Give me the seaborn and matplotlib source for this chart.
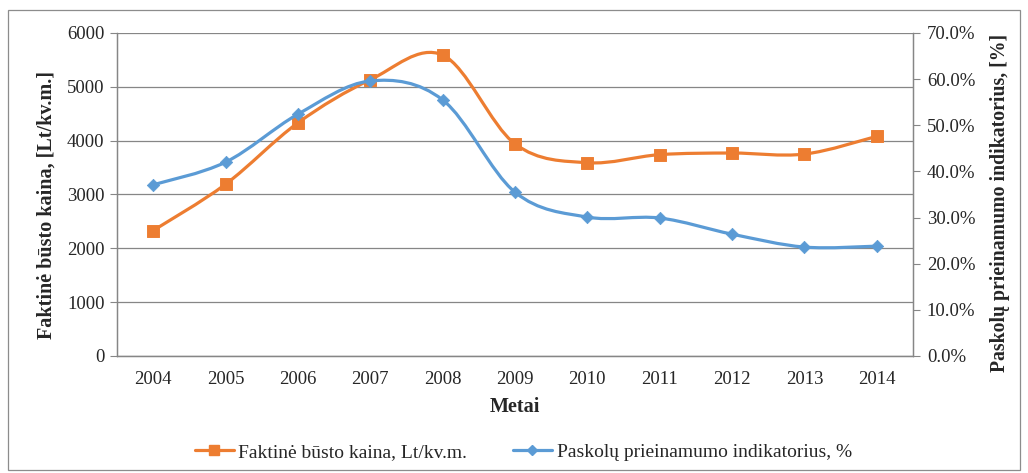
import matplotlib
matplotlib.use("Agg")
import matplotlib.pyplot as plt
import matplotlib.patches as mpatches
from matplotlib.lines import Line2D
from matplotlib.path import Path
from matplotlib.ticker import FuncFormatter, MultipleLocator
import numpy as np
import pandas as pd
import seaborn as sns

years = ["2004", "2005", "2006", "2007", "2008", "2009", "2010", "2011", "2012", "2013", "2014"]
price = [2330, 3190, 4330, 5130, 5590, 3940, 3590, 3740, 3770, 3750, 4080]
loan_pct = [37.1, 42.0, 52.4, 59.6, 55.5, 35.5, 30.1, 29.9, 26.4, 23.6, 23.8]

price_label = "Faktinė būsto kaina, Lt/kv.m."
loan_label = "Paskolų prieinamumo indikatorius, %"

ORANGE = "#ED7D31"
BLUE = "#5B9BD5"
GRID = "#868686"


def smooth_path(xs, ys):
    # excel-like smoothed line: cubic bezier with catmull-rom control points
    pts = np.column_stack([xs, ys]).astype(float)
    verts = [pts[0]]
    codes = [Path.MOVETO]
    n = len(pts)
    for i in range(n - 1):
        p0 = pts[i - 1] if i > 0 else pts[i]
        p1 = pts[i]
        p2 = pts[i + 1]
        p3 = pts[i + 2] if i + 2 < n else pts[i + 1]
        c1 = p1 + (p2 - p0) / 6.0
        c2 = p2 - (p3 - p1) / 6.0
        verts += [c1, c2, p2]
        codes += [Path.CURVE4] * 3
    return Path(verts, codes)


def main(output="out.png"):
    sns.set_style("white")
    plt.rcParams["font.family"] = ["Liberation Serif", "DejaVu Serif"]

    df = pd.DataFrame({"x": np.arange(len(years)), "price": price, "loan": loan_pct})

    fig = plt.figure(figsize=(10.28, 4.73), dpi=100)
    ax = fig.add_axes([0.1138, 0.2474, 0.7743, 0.6829])
    ax2 = ax.twinx()

    # outer chart border
    fig.add_artist(mpatches.Rectangle((8 / 1028, 3 / 473), 1012 / 1028, 460 / 473,
                                      transform=fig.transFigure, fill=False,
                                      edgecolor="#8c8c8c", linewidth=0.9))

    ax.add_patch(mpatches.PathPatch(smooth_path(df.x, df.price), fill=False,
                                    edgecolor=ORANGE, linewidth=2.3, zorder=3))
    sns.scatterplot(data=df, x="x", y="price", ax=ax, marker="s", s=70,
                    color=ORANGE, edgecolor=ORANGE, zorder=4, legend=False)

    ax2.add_patch(mpatches.PathPatch(smooth_path(df.x, df.loan), fill=False,
                                     edgecolor=BLUE, linewidth=2.3, zorder=3))
    sns.scatterplot(data=df, x="x", y="loan", ax=ax2, marker="D", s=40,
                    color=BLUE, edgecolor=BLUE, zorder=4, legend=False)

    ax.set_xlim(-0.5, len(years) - 0.5)
    ax.set_ylim(0, 6000)
    ax2.set_ylim(0, 70)
    ax.yaxis.set_major_locator(MultipleLocator(1000))
    ax2.yaxis.set_major_locator(MultipleLocator(10))
    ax2.yaxis.set_major_formatter(FuncFormatter(lambda v, _: f"{v:.1f}%"))

    ax.set_xticks(np.arange(len(years)))
    ax.set_xticklabels(years)
    ax.set_xticks(np.arange(len(years) + 1) - 0.5, minor=True)
    ax.tick_params(axis="x", which="major", length=0, pad=11, labelsize=13.5)
    ax.tick_params(axis="x", which="minor", length=5, color=GRID, direction="out")
    ax.tick_params(axis="y", length=5, color=GRID, direction="out", left=True, labelsize=13.5, pad=4)
    ax2.tick_params(axis="y", length=5, color=GRID, direction="out", right=True, labelsize=13.5, pad=5)

    ax.grid(axis="y", color=GRID, linewidth=0.9)
    ax.set_axisbelow(True)
    for a in (ax, ax2):
        a.spines["top"].set_visible(False)
        for s in ("left", "right", "bottom"):
            a.spines[s].set_color(GRID)
            a.spines[s].set_linewidth(0.9)

    ax.set_xlabel("Metai", fontweight="bold", fontsize=14.5, labelpad=6)
    ax.set_ylabel("Faktinė būsto kaina, [Lt/kv.m.]", fontweight="bold", fontsize=14.5)
    ax2.set_ylabel("Paskolų prieinamumo indikatorius, [%]", fontweight="bold", fontsize=14.2)
    ax.yaxis.set_label_coords(-60 / 796, 0.467)
    ax2.yaxis.set_label_coords(1 + 77 / 796, 0.475)

    handles = [
        Line2D([], [], color=ORANGE, linewidth=2.3, marker="s", markersize=7),
        Line2D([], [], color=BLUE, linewidth=2.3, marker="D", markersize=5),
    ]
    fig.legend(handles, [price_label, loan_label], loc="center", ncol=2,
               bbox_to_anchor=(0.509, 21 / 473), frameon=False, fontsize=14,
               handlelength=2.0, handletextpad=0.25, columnspacing=2.35)

    fig.savefig(output, dpi=100)


if __name__ == "__main__":
    main()
